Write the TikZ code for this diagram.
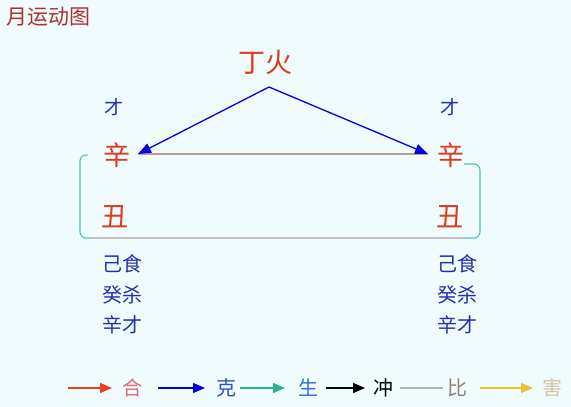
\documentclass[tikz,border=0pt]{standalone}
\usepackage{fontspec}
\setmainfont{Noto Sans CJK SC}
\usetikzlibrary{arrows.meta}
\definecolor{bg}{HTML}{F0FBFE}
\definecolor{titlec}{HTML}{B03030}
\definecolor{ganc}{HTML}{E03A1E}
\definecolor{shenc}{HTML}{2030B0}
\definecolor{kec}{HTML}{0000E0}
\definecolor{bic}{HTML}{B8A090}
\definecolor{shengc}{HTML}{20B890}
\definecolor{bracketc}{HTML}{50C0C0}
\definecolor{bottomc}{HTML}{C4C0C0}
\definecolor{hec}{HTML}{E84020}
\definecolor{hetxt}{HTML}{E06878}
\definecolor{ketxt}{HTML}{3050C8}
\definecolor{shengtxt}{HTML}{3070D0}
\definecolor{bitxt}{HTML}{908070}
\definecolor{haic}{HTML}{E8C030}
\definecolor{haitxt}{HTML}{D4C4A4}
\tikzset{
  gan/.style={text=ganc,font=\fontsize{27}{27}\selectfont,inner sep=0pt},
  small/.style={text=shenc,font=\fontsize{19}{19}\selectfont,inner sep=0pt},
  hid/.style={text=shenc,font=\fontsize{20}{20}\selectfont,inner sep=0pt},
  leg/.style={font=\fontsize{20}{20}\selectfont,inner sep=0pt},
  arr/.style={-{Triangle[length=13pt,width=10pt]},line width=1.3pt},
  legarr/.style={-{Triangle[length=12pt,width=10pt]},line width=1.3pt}
}
\begin{document}
\begin{tikzpicture}[x=1pt,y=-1pt]
\fill[bg] (0,0) rectangle (571,407);
\useasboundingbox (0,0) rectangle (571,407);
\node[anchor=west,text=titlec,font=\fontsize{21}{21}\selectfont,inner sep=0pt] (title) at (6,17) {月运动图};
\node[gan] (ding) at (265,62) {丁火};
\coordinate (apex) at (269,87);
\node[small] (cai1) at (114,107) {才};
\node[small] (cai2) at (450,107) {才};
\node[gan] (xin1) at (117,155) {辛};
\node[gan] (xin2) at (451,155) {辛};
\node[gan] (chou1) at (115,217) {丑};
\node[gan] (chou2) at (450,217) {丑};
\coordinate (t1) at (138,154);
\coordinate (t2) at (428,154);
% bracket
\coordinate (b1) at (88,155);
\coordinate (b2) at (90,238);
\coordinate (b3) at (464,164);
\coordinate (b4) at (465,238);
\draw[bracketc,line width=1.1pt,rounded corners=6pt] (b1) -- (80,155) -- (80,238) -- (b2);
\draw[bracketc,line width=1.1pt,rounded corners=6pt] (b3) -- (480,164) -- (480,238) -- (b4);
\draw[bottomc,line width=1.6pt] (b2) -- (b4);
\draw[bic,line width=1.1pt] (t1) -- (t2);
\draw[kec,arr] (apex) -- (t1);
\draw[kec,arr] (apex) -- (t2);
% hidden stems
\node[hid] (h1) at (122,264) {己食};
\node[hid] (h2) at (122,295) {癸杀};
\node[hid] (h3) at (122,325) {辛才};
\node[hid] (h4) at (457,264) {己食};
\node[hid] (h5) at (457,295) {癸杀};
\node[hid] (h6) at (457,325) {辛才};
% legend
\coordinate (l1a) at (68,388); \coordinate (l1b) at (112,388);
\coordinate (l2a) at (158,388); \coordinate (l2b) at (205,388);
\coordinate (l3a) at (240,388); \coordinate (l3b) at (285,388);
\coordinate (l4a) at (326,388); \coordinate (l4b) at (365,388);
\coordinate (l5a) at (400,388); \coordinate (l5b) at (443,388);
\coordinate (l6a) at (480,388); \coordinate (l6b) at (533,388);
\draw[hec,legarr] (l1a) -- (l1b);
\draw[kec,legarr] (l2a) -- (l2b);
\draw[shengc,legarr] (l3a) -- (l3b);
\draw[black,legarr] (l4a) -- (l4b);
\draw[bottomc!80!gray,line width=1.3pt] (l5a) -- (l5b);
\draw[haic,legarr] (l6a) -- (l6b);
\node[leg,text=hetxt] (he) at (132,388) {合};
\node[leg,text=ketxt] (ke) at (226,388) {克};
\node[leg,text=shengtxt] (sheng) at (308,388) {生};
\node[leg,text=black] (chong) at (383,388) {冲};
\node[leg,text=bitxt] (bi) at (457,388) {比};
\node[leg,text=haitxt] (hai) at (552,388) {害};
\end{tikzpicture}
\end{document}
